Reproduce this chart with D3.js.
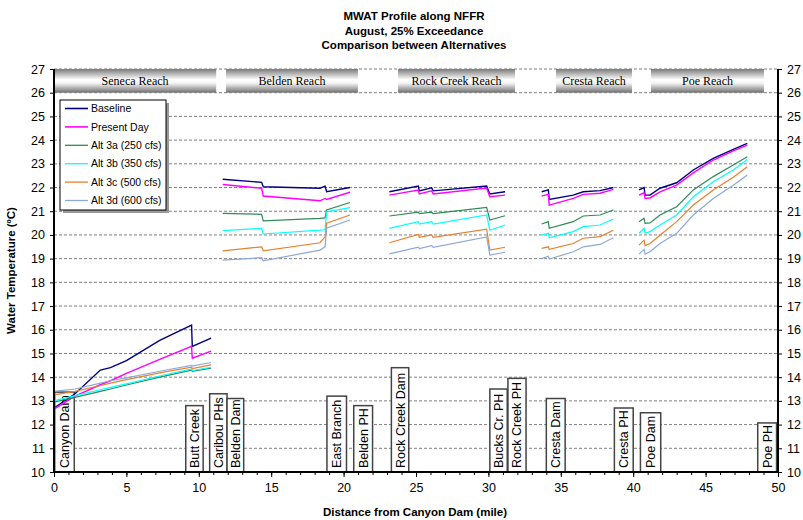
<!DOCTYPE html>
<meta charset="utf-8">
<style>
  body { margin: 0; background: #fff; }
  text { font-family: "Liberation Sans", Arial, sans-serif; }
</style>
<div id="my_dataviz"></div>
<script src="https://d3js.org/d3.v7.min.js"></script>
<script>

// reaches along the river (miles from Canyon Dam)
var reachNames = ["Seneca Reach", "Belden Reach", "Rock Creek Reach", "Cresta Reach", "Poe Reach"];
var reachStart = [0, 11.88, 23.76, 34.67, 41.23];
var reachEnd   = [11.2, 20.99, 31.84, 39.92, 49.03];

// mile points of the modelled profile, one list per reach
var milesSeneca = [0, 1.45, 3.2, 3.9, 5.0, 7.3, 9.5, 9.55, 10.85];
var milesBelden = [11.65, 14.34, 14.45, 18.37, 18.72, 18.83, 20.44];
var milesRock   = [23.16, 25.16, 25.23, 26.08, 26.19, 29.88, 30.1, 31.15];
var milesCresta = [33.68, 34.14, 34.2, 35.86, 36.55, 37.71, 38.63];
var milesPoe    = [40.4, 40.75, 40.82, 41.16, 41.85, 43.0, 44.15, 45.53, 46.91, 47.88];
var reachMiles = [milesSeneca, milesBelden, milesRock, milesCresta, milesPoe];

// MWAT (deg C), one list per reach for each alternative
var baseline = [
  [12.7, 13.3, 14.3, 14.4, 14.7, 15.55, 16.2, 15.3, 15.65],
  [22.35, 22.22, 22.03, 21.97, 22.06, 21.82, 22.0],
  [21.82, 22.06, 21.86, 21.99, 21.86, 22.06, 21.73, 21.82],
  [21.82, 21.9, 21.5, 21.68, 21.82, 21.87, 22.0],
  [21.9, 22.0, 21.68, 21.68, 21.97, 22.2, 22.74, 23.23, 23.61, 23.86]
];
var presentDay = [
  [12.65, 13.2, 13.68, 13.85, 14.16, 14.75, 15.3, 14.8, 15.1],
  [22.13, 21.97, 21.64, 21.44, 21.54, 21.5, 21.8],
  [21.68, 21.89, 21.73, 21.86, 21.73, 21.98, 21.61, 21.68],
  [21.64, 21.71, 21.26, 21.54, 21.71, 21.76, 21.92],
  [21.68, 21.78, 21.54, 21.56, 21.82, 22.1, 22.62, 23.16, 23.55, 23.79]
];
var alt3a = [
  [12.95, 13.15, 13.4, 13.5, 13.67, 14.0, 14.3, 14.25, 14.38],
  [20.91, 20.87, 20.59, 20.7, 20.72, 21.05, 21.37],
  [20.8, 20.96, 20.9, 20.96, 20.9, 21.16, 20.63, 20.81],
  [20.46, 20.56, 20.28, 20.56, 20.8, 20.84, 21.05],
  [20.56, 20.7, 20.49, 20.51, 20.84, 21.19, 21.9, 22.46, 22.95, 23.3]
];
var alt3b = [
  [13.0, 13.22, 13.47, 13.57, 13.72, 14.05, 14.35, 14.28, 14.42],
  [20.18, 20.28, 20.04, 20.2, 20.22, 20.98, 21.15],
  [20.28, 20.56, 20.46, 20.56, 20.46, 20.84, 20.2, 20.42],
  [19.99, 20.07, 19.88, 20.14, 20.35, 20.42, 20.67],
  [20.07, 20.28, 20.07, 20.14, 20.42, 20.84, 21.61, 22.24, 22.74, 23.18]
];
var alt3c = [
  [13.25, 13.4, 13.65, 13.75, 13.9, 14.18, 14.42, 14.36, 14.52],
  [19.33, 19.5, 19.33, 19.67, 19.92, 20.5, 20.84],
  [19.67, 20.02, 19.9, 20.0, 19.9, 20.24, 19.36, 19.48],
  [19.43, 19.5, 19.39, 19.64, 19.86, 19.93, 20.2],
  [19.57, 19.78, 19.55, 19.64, 19.99, 20.56, 21.26, 21.9, 22.43, 22.88]
];
var alt3d = [
  [13.4, 13.5, 13.75, 13.85, 13.97, 14.25, 14.5, 14.47, 14.62],
  [18.94, 19.04, 18.91, 19.36, 19.5, 20.28, 20.63],
  [19.2, 19.48, 19.42, 19.55, 19.48, 19.92, 19.15, 19.27],
  [19.0, 19.1, 18.98, 19.29, 19.5, 19.6, 19.88],
  [19.19, 19.39, 19.19, 19.29, 19.64, 20.07, 20.84, 21.54, 22.1, 22.53]
];

var seriesNames  = ["Baseline", "Present Day", "Alt 3a (250 cfs)", "Alt 3b (350 cfs)", "Alt 3c (500 cfs)", "Alt 3d (600 cfs)"];
var seriesValues = [baseline, presentDay, alt3a, alt3b, alt3c, alt3d];
var seriesColors = ["#000080", "#ff00ff", "#2e8b57", "#00ffff", "#e8802e", "#8ea8d8"];

// facility markers: name, start mile, end mile, box top (deg C)
var siteNames = ["Canyon Dam", "Butt Creek", "Caribou PHs", "Belden Dam", "East Branch", "Belden PH",
  "Rock Creek Dam", "Bucks Cr. PH", "Rock Creek PH", "Cresta Dam", "Cresta PH", "Poe Dam", "Poe PH"];
var siteStart = [0.05, 9.1, 10.75, 11.95, 18.85, 20.7, 23.3, 30.1, 31.35, 34.0, 38.7, 40.5, 48.6];
var siteEnd   = [1.4, 10.3, 11.95, 13.1, 20.2, 22.0, 24.5, 31.3, 32.6, 35.3, 40.0, 41.9, 49.9];
var siteTop   = [13.37, 12.8, 13.3, 13.1, 13.2, 12.8, 14.4, 13.5, 13.95, 13.1, 12.7, 12.5, 12.07];

var W = 803, H = 520;
var margin = {top: 69, right: 25, bottom: 48, left: 54};

var svg = d3.select("#my_dataviz")
  .append("svg")
    .attr("width", W)
    .attr("height", H);

var x = d3.scaleLinear().domain([0, 50]).range([margin.left, W - margin.right]);
var y = d3.scaleLinear().domain([10, 27]).range([H - margin.bottom, margin.top]);

// gradient for the reach banners
var grad = svg.append("defs").append("linearGradient")
  .attr("id", "bar").attr("x1", 0).attr("y1", 0).attr("x2", 0).attr("y2", 1);
grad.append("stop").attr("offset", "0%").attr("stop-color", "#7a7a7a");
grad.append("stop").attr("offset", "45%").attr("stop-color", "#ffffff");
grad.append("stop").attr("offset", "60%").attr("stop-color", "#f4f4f4");
grad.append("stop").attr("offset", "100%").attr("stop-color", "#6e6e6e");

svg.selectAll(".reach")
  .data(reachNames)
  .enter().append("rect")
    .attr("x", function(d, i) { return x(reachStart[i]); })
    .attr("y", y(27))
    .attr("width", function(d, i) { return x(reachEnd[i]) - x(reachStart[i]); })
    .attr("height", y(26) - y(27))
    .style("fill", "url(#bar)");

svg.selectAll(".reachlabel")
  .data(reachNames)
  .enter().append("text")
    .attr("x", function(d, i) { return (x(reachStart[i]) + x(reachEnd[i])) / 2; })
    .attr("y", (y(27) + y(26)) / 2)
    .attr("dy", "0.35em")
    .attr("text-anchor", "middle")
    .style("font-family", "'Liberation Serif', 'Times New Roman', serif")
    .style("font-size", "12px")
    .text(function(d) { return d; });

// dashed gridlines
svg.append("g")
  .selectAll("line")
  .data(d3.range(11, 28))
  .enter().append("line")
    .attr("x1", x(0)).attr("x2", x(50))
    .attr("y1", function(d) { return y(d); })
    .attr("y2", function(d) { return y(d); })
    .style("stroke", "#808080")
    .style("stroke-width", 1)
    .style("stroke-dasharray", "3,2");

// facility boxes
var sites = svg.append("g");
sites.selectAll("rect")
  .data(siteNames)
  .enter().append("rect")
    .attr("x", function(d, i) { return x(siteStart[i]); })
    .attr("y", function(d, i) { return y(siteTop[i]); })
    .attr("width", function(d, i) { return x(siteEnd[i]) - x(siteStart[i]); })
    .attr("height", function(d, i) { return y(10) - y(siteTop[i]); })
    .style("fill", "#fff")
    .style("stroke", "#444")
    .style("stroke-width", 1.5);
sites.selectAll("text")
  .data(siteNames)
  .enter().append("text")
    .attr("transform", function(d, i) {
      return "translate(" + ((x(siteStart[i]) + x(siteEnd[i])) / 2) + "," + (y(10) - 4) + ") rotate(-90)";
    })
    .attr("dy", "0.36em")
    .style("font-size", "12.5px")
    .text(function(d) { return d; });

// profile lines
var line = d3.line()
  .x(function(d) { return x(d[0]); })
  .y(function(d) { return y(d[1]); });

seriesValues.forEach(function(vals, s) {
  vals.forEach(function(seg, r) {
    var pts = seg.map(function(v, k) { return [reachMiles[r][k], v]; });
    svg.append("path")
      .datum(pts)
      .attr("d", line)
      .style("fill", "none")
      .style("stroke", seriesColors[s])
      .style("stroke-width", s < 2 ? 1.4 : 1.2);
  });
});

// axes
var yl = svg.append("g")
  .attr("transform", "translate(" + x(0) + ",0)")
  .call(d3.axisLeft(y).ticks(17).tickSize(4).tickPadding(5));
var yr = svg.append("g")
  .attr("transform", "translate(" + x(50) + ",0)")
  .call(d3.axisRight(y).ticks(17).tickSize(4).tickPadding(5));
var xb = svg.append("g")
  .attr("transform", "translate(0," + y(10) + ")")
  .call(d3.axisBottom(x).tickValues(d3.range(0, 51, 5)).tickSize(5).tickPadding(6));
svg.append("g")
  .attr("transform", "translate(0," + y(10) + ")")
  .call(d3.axisBottom(x).tickValues(d3.range(0, 51, 1)).tickSize(3).tickFormat(""))
  .select(".domain").remove();

[yl, yr, xb].forEach(function(g) {
  g.select(".domain").attr("d", null).remove();
  g.selectAll("text").style("font-size", "12.5px").style("fill", "#000");
  g.selectAll("line").style("stroke", "#000");
});
svg.append("line").attr("x1", x(0)).attr("x2", x(0)).attr("y1", y(27)).attr("y2", y(10))
  .style("stroke", "#000").style("stroke-width", 2);
svg.append("line").attr("x1", x(50)).attr("x2", x(50)).attr("y1", y(27)).attr("y2", y(10))
  .style("stroke", "#000").style("stroke-width", 2);
svg.append("line").attr("x1", x(0)).attr("x2", x(50)).attr("y1", y(10)).attr("y2", y(10))
  .style("stroke", "#000").style("stroke-width", 2);

// legend
var lg = svg.append("g").attr("transform", "translate(60,100)");
lg.append("rect").attr("x", 3).attr("y", 3).attr("width", 106).attr("height", 110).style("fill", "#999");
lg.append("rect").attr("width", 106).attr("height", 110)
  .style("fill", "#fff").style("stroke", "#000").style("stroke-width", 1);
seriesNames.forEach(function(name, i) {
  var ly = 8.5 + i * 18.4;
  lg.append("line").attr("x1", 5).attr("x2", 28).attr("y1", ly).attr("y2", ly)
    .style("stroke", seriesColors[i]).style("stroke-width", i < 2 ? 1.6 : 1.3);
  lg.append("text").attr("x", 31).attr("y", ly).attr("dy", "0.35em")
    .style("font-size", "10.5px").text(name);
});

// titles
var titles = ["MWAT Profile along NFFR", "August, 25% Exceedance", "Comparison between Alternatives"];
svg.selectAll(".title")
  .data(titles)
  .enter().append("text")
    .attr("x", 414)
    .attr("y", function(d, i) { return 16 + i * 14.5; })
    .attr("dy", "0.35em")
    .attr("text-anchor", "middle")
    .style("font-size", "11.5px")
    .style("font-weight", "bold")
    .text(function(d) { return d; });

svg.append("text")
  .attr("transform", "translate(11," + ((y(10) + y(27)) / 2) + ") rotate(-90)")
  .attr("text-anchor", "middle")
  .attr("dy", "0.35em")
  .style("font-size", "11.5px")
  .style("font-weight", "bold")
  .text("Water Temperature (ºC)");

svg.append("text")
  .attr("x", 415)
  .attr("y", 512)
  .attr("text-anchor", "middle")
  .attr("dy", "0.35em")
  .style("font-size", "11.5px")
  .style("font-weight", "bold")
  .text("Distance from Canyon Dam (mile)");

</script>
